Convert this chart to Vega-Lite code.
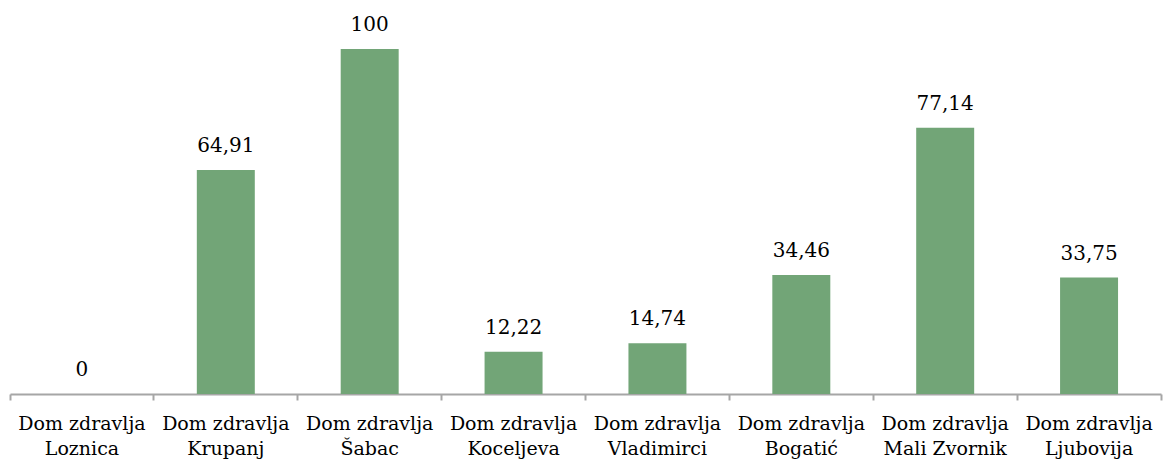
{
  "$schema": "https://vega.github.io/schema/vega-lite/v6.json",
  "autosize": "none",
  "width": 1151,
  "height": 345,
  "padding": {"left": 10, "top": 49, "right": 6, "bottom": 70},
  "background": "white",
  "config": {"view": {"stroke": null}},
  "data": {
    "values": [
      {"name": "Dom zdravlja|Loznica", "value": 0, "label": "0"},
      {"name": "Dom zdravlja|Krupanj", "value": 64.91, "label": "64,91"},
      {"name": "Dom zdravlja|Šabac", "value": 100, "label": "100"},
      {"name": "Dom zdravlja|Koceljeva", "value": 12.22, "label": "12,22"},
      {"name": "Dom zdravlja|Vladimirci", "value": 14.74, "label": "14,74"},
      {"name": "Dom zdravlja|Bogatić", "value": 34.46, "label": "34,46"},
      {"name": "Dom zdravlja|Mali Zvornik", "value": 77.14, "label": "77,14"},
      {"name": "Dom zdravlja|Ljubovija", "value": 33.75, "label": "33,75"}
    ]
  },
  "encoding": {
    "x": {
      "field": "name",
      "type": "nominal",
      "sort": null,
      "scale": {"paddingInner": 0, "paddingOuter": 0},
      "axis": {
        "title": null,
        "labelAngle": 0,
        "labelExpr": "split(datum.label, '|')",
        "labelFont": "DejaVu Serif",
        "labelFontSize": 19,
        "labelColor": "#000000",
        "labelLineHeight": 25,
        "labelPadding": 14,
        "labelLimit": 0,
        "bandPosition": 1,
        "tickExtra": true,
        "tickSize": 6,
        "tickWidth": 2,
        "tickColor": "#A6A6A6",
        "domainColor": "#A6A6A6",
        "domainWidth": 2,
        "grid": false
      }
    },
    "y": {
      "field": "value",
      "type": "quantitative",
      "scale": {"domain": [0, 100], "nice": false},
      "axis": null
    }
  },
  "layer": [
    {
      "mark": {"type": "bar", "color": "#72A577", "width": {"band": 0.403}}
    },
    {
      "mark": {
        "type": "text",
        "font": "DejaVu Serif",
        "fontSize": 20,
        "color": "#000000",
        "baseline": "alphabetic",
        "dy": -18
      },
      "encoding": {"text": {"field": "label"}}
    }
  ]
}
